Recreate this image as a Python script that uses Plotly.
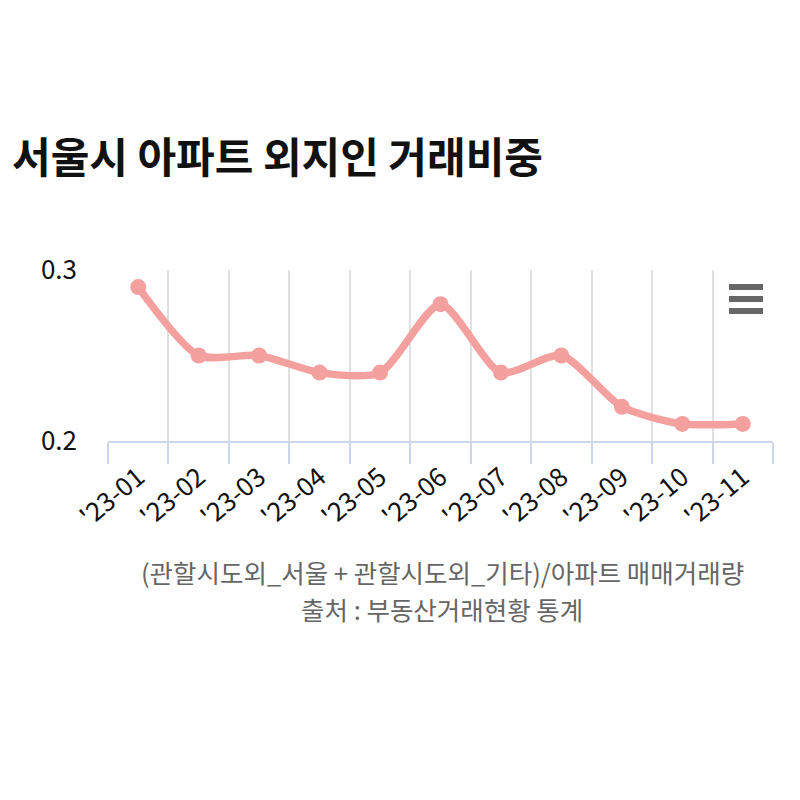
import plotly.graph_objects as go

categories = ["'23-01", "'23-02", "'23-03", "'23-04", "'23-05", "'23-06",
              "'23-07", "'23-08", "'23-09", "'23-10", "'23-11"]
values = [0.29, 0.25, 0.25, 0.24, 0.24, 0.28, 0.24, 0.25, 0.22, 0.21, 0.21]
y_ticks = [0.2, 0.3]
y_tick_labels = ["0.2", "0.3"]

title_text = "서울시 아파트 외지인 거래비중"
note_line1 = "(관할시도외_서울 + 관할시도외_기타)/아파트 매매거래량"
note_line2 = "출처 : 부동산거래현황 통계"

FONT = "Noto Sans CJK KR"
LINE_COLOR = "#f4a09f"

W = H = 792  # page body has an 8px margin
L, R, T, B = 100, 27, 262, 359
PW, PH = W - L - R, H - T - B

fig = go.Figure()
fig.add_trace(go.Scatter(
    x=categories, y=values, mode="lines+markers",
    line=dict(color=LINE_COLOR, width=7.5, shape="spline", smoothing=0.7),
    marker=dict(color=LINE_COLOR, size=16),
    hoverinfo="x+y", showlegend=False,
))

def px_y(ypix):
    return (H - B - ypix) / PH

def px_x(xpix):
    return (xpix - L) / PW

fig.update_layout(
    width=W, height=H,
    margin=dict(l=L, r=R, t=T, b=B),
    paper_bgcolor="white", plot_bgcolor="white",
    font=dict(family=FONT, color="#222222"),
    title=dict(text="<b>" + title_text + "</b>", x=4/W, xref="container", xanchor="left",
               y=1-150/H, yref="container", yanchor="middle",
               font=dict(family=FONT, size=42, color="#111111")),
    xaxis=dict(
        type="category", range=[-0.5, 10.5], tickson="boundaries",
        showgrid=True, gridcolor="#e0e0e0", gridwidth=1.5,
        showline=True, linecolor="#ccd6eb", linewidth=1.5,
        ticks="outside", ticklen=21, tickcolor="#ccd6eb", tickwidth=1.5,
        tickangle=-40, ticklabelstandoff=9,
        tickfont=dict(family=FONT, size=26, color="#111111"),
        zeroline=False, fixedrange=True,
    ),
    yaxis=dict(
        range=[0.2, 0.3], tickvals=y_ticks, ticktext=y_tick_labels,
        showgrid=True, gridcolor="#e0e0e0", gridwidth=1.5,
        showline=False, zeroline=False, ticks="",
        ticklabelstandoff=30,
        tickfont=dict(family=FONT, size=26, color="#111111"), fixedrange=True,
    ),
    annotations=[
        dict(text=note_line1, xref="paper", yref="paper", x=px_x(434), y=px_y(563),
             xanchor="center", yanchor="middle", showarrow=False,
             font=dict(family=FONT, size=25.5, color="#666666")),
        dict(text=note_line2, xref="paper", yref="paper", x=px_x(434), y=px_y(600),
             xanchor="center", yanchor="middle", showarrow=False,
             font=dict(family=FONT, size=25.5, color="#666666")),
    ],
)

# export menu icon (three bars)
for ypix in (279, 291, 303):
    yy = px_y(ypix)
    fig.add_shape(type="line", xref="paper", yref="paper",
                  x0=px_x(721), x1=px_x(755), y0=yy, y1=yy,
                  line=dict(color="#666666", width=6))

fig.write_html("out.html")
